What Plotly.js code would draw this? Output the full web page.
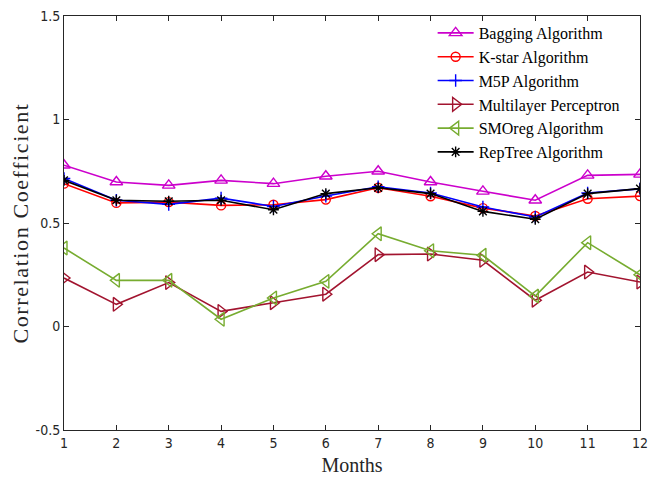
<!DOCTYPE html>
<html>
<head>
<meta charset="utf-8">
<script src="https://cdn.plot.ly/plotly-3.0.1.min.js"></script>
<style>html,body{margin:0;padding:0;background:#fff;}#chart{width:658px;height:484px;}
.ytitle{letter-spacing:1.6px;}</style>
</head>
<body>
<div id="chart"></div>
<script>
const months = [1,2,3,4,5,6,7,8,9,10,11,12];
const bagging = [0.779,0.698,0.682,0.706,0.690,0.726,0.750,0.698,0.653,0.610,0.730,0.735];
const kstar = [0.690,0.597,0.601,0.585,0.588,0.613,0.670,0.629,0.572,0.534,0.617,0.630];
const m5p = [0.715,0.610,0.590,0.620,0.580,0.630,0.675,0.645,0.577,0.529,0.645,0.665];
const mlp = [0.234,0.107,0.212,0.073,0.115,0.156,0.347,0.350,0.320,0.127,0.263,0.215];
const smoreg = [0.379,0.223,0.223,0.035,0.138,0.218,0.448,0.366,0.344,0.147,0.405,0.250];
const reptree = [0.706,0.610,0.605,0.610,0.564,0.642,0.670,0.642,0.556,0.518,0.642,0.666];

const names = ["Bagging Algorithm","K-star Algorithm","M5P Algorithm","Multilayer Perceptron","SMOreg Algorithm","RepTree Algorithm"];
const series = [bagging,kstar,m5p,mlp,smoreg,reptree];
const colors = ["#cc00cc","#ff0000","#0000ff","#a2142f","#77ac30","#000000"];
const symbols = ["triangle-up-open","circle-open","cross-thin-open","triangle-right-open","triangle-left-open","asterisk-open"];
const sizes = [11,9,9,12,12,9];

const traces = series.map((s,i)=>({
  x: months, y: s, name: names[i], type:'scatter', mode:'lines+markers',
  line:{color:colors[i], width:1.6},
  marker:{symbol:symbols[i], size:sizes[i], color:colors[i], line:{color:colors[i], width:1.4}}
}));

const tickFont = {family:'"Liberation Sans Narrow","DejaVu Sans Condensed",Arial,sans-serif', size:14, color:'#262626'};
const layout = {
  width:658, height:484,
  margin:{l:64, r:18, t:16, b:54},
  paper_bgcolor:'#fff', plot_bgcolor:'#fff',
  showlegend:true,
  legend:{x:0.64, y:1.0, xanchor:'left', yanchor:'top', bgcolor:'rgba(255,255,255,0)',
    font:{family:'"Liberation Serif","Times New Roman",serif', size:16, color:'#000'}, itemwidth:36, tracegroupgap:0},
  xaxis:{range:[1,12], tickvals:months, ticktext:months.map(String), showgrid:false, zeroline:false,
    showline:true, linecolor:'#262626', linewidth:1, mirror:'ticks', ticks:'inside', ticklen:5, tickcolor:'#262626',
    tickfont:tickFont,
    title:{text:'Months', font:{family:'"Liberation Serif","Times New Roman",serif', size:20, color:'#262626'}, standoff:8}},
  yaxis:{range:[-0.5,1.5], tickvals:[-0.5,0,0.5,1,1.5], ticktext:['-0.5','0','0.5','1','1.5'], showgrid:false, zeroline:false,
    showline:true, linecolor:'#262626', linewidth:1, mirror:'ticks', ticks:'inside', ticklen:5, tickcolor:'#262626',
    tickfont:tickFont,
    title:{text:'Correlation Coefficient', font:{family:'"Liberation Serif","Times New Roman",serif', size:22, color:'#262626'}, standoff:0}}
};
Plotly.newPlot('chart', traces, layout, {displayModeBar:false, staticPlot:true});
</script>
</body>
</html>
